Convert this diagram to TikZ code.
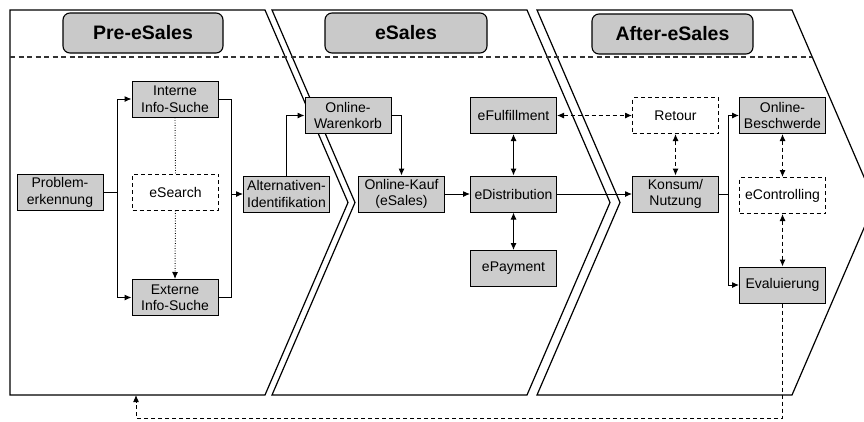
\documentclass[tikz,border=0pt]{standalone}
\usepackage{fontspec}
\setmainfont{Liberation Sans}
\usetikzlibrary{arrows.meta}
\definecolor{boxgray}{HTML}{CDCDCD}
\definecolor{titlegray}{HTML}{C9C9C9}
\begin{document}
\begin{tikzpicture}[x=1pt,y=-1pt,
  panel/.style={draw=black, line width=1.2pt, fill=white, line join=miter},
  stagebox/.style={draw=black, line width=1.1pt, rounded corners=7pt, fill=titlegray,
    minimum width=160pt, minimum height=40pt, inner sep=0pt,
    font=\fontsize{19.5}{22}\selectfont\bfseries},
  procbox/.style={draw=black, line width=1pt, fill=boxgray,
    minimum width=86pt, minimum height=36pt, inner sep=1pt, align=center,
    font=\fontsize{14}{16.5}\selectfont},
  optbox/.style={procbox, fill=white, dash pattern=on 4pt off 3pt},
  link/.style={draw=black, line width=1pt},
  arr/.style={link, -{Latex[length=7pt,width=6pt]}},
  biarr/.style={link, {Latex[length=7pt,width=6pt]}-{Latex[length=7pt,width=6pt]}},
  dbiarr/.style={biarr, dash pattern=on 4pt off 3pt},
  dotline/.style={link, line width=0.9pt, dash pattern=on 0.9pt off 1.6pt},
  dotarr/.style={arr, dash pattern=on 0.9pt off 1.6pt},
  fbline/.style={arr, dash pattern=on 4pt off 3pt}
]
\path[use as bounding box] (0,0) rectangle (864,421);

% three process stages as chevrons
\begin{scope}
  \clip (0,0) rectangle (864,421);
  \draw[panel] (10,10) -- (265,10) -- (348,202.5) -- (265,395) -- (10,395) -- cycle;
  \draw[panel] (272,10) -- (527,10) -- (610,202.5) -- (527,395) -- (272,395) -- (355,202.5) -- cycle;
  \draw[panel] (537,10) -- (792,10) -- (875,202.5) -- (792,395) -- (537,395) -- (620,202.5) -- cycle;
\end{scope}

% header separator
\draw[line width=1.1pt, black!80, dash pattern=on 5pt off 3.5pt] (10,57) -- (812,57);

% stage titles
\node[stagebox] (t1) at (143,33) {Pre-eSales};
\node[stagebox, minimum width=162pt] (t2) at (406,33) {eSales};
\node[stagebox, minimum width=161pt] (t3) at (672.5,34) {After-eSales};

% Pre-eSales
\node[procbox] (prob) at (60,192.5) {Problem-\\erkennung};
\node[procbox] (interne) at (175,99) {Interne\\Info-Suche};
\node[optbox] (esearch) at (175.5,192) {eSearch};
\node[procbox] (externe) at (175,297.5) {Externe\\Info-Suche};
\node[procbox] (alt) at (286.5,194) {Alternativen-\\Identifikation};

% eSales
\node[procbox] (waren) at (348,115.5) {Online-\\Warenkorb};
\node[procbox] (kauf) at (401.5,194) {Online-Kauf\\(eSales)};
\node[procbox] (edist) at (513.5,194) {eDistribution};
\node[procbox] (eful) at (513.5,115.5) {eFulfillment};
\node[procbox] (epay) at (513.5,268.5) {ePayment};

% After-eSales
\node[optbox] (retour) at (675.5,115.5) {Retour};
\node[procbox] (konsum) at (675.5,194) {Konsum/\\Nutzung};
\node[procbox] (beschw) at (782.5,115.5) {Online-\\Beschwerde};
\node[optbox] (ectrl) at (782.5,195.5) {eControlling};
\node[procbox] (eval) at (782.5,285) {Evaluierung};

% branch points
\coordinate (pl) at (117,192.5);
\coordinate (pr) at (231,194);
\coordinate (kr) at (728,194);
\coordinate (fbc) at (136,418);
\coordinate (fb) at (136,395);

% connectors
\draw[link] (prob.east) -- (pl);
\draw[arr] (pl) |- (interne.west);
\draw[arr] (pl) |- (externe.west);
\draw[link] (interne.east) -| (pr);
\draw[link] (externe.east) -| (pr);
\draw[arr] (pr) -- (alt.west);
\draw[dotline] (interne.south) -- (esearch.north);
\draw[dotarr] (esearch.south) -- (externe.north);

\draw[arr] (alt.north) |- (waren.west);
\draw[arr] (waren.east) -| (kauf.north);
\draw[arr] (kauf.east) -- (edist.west);
\draw[biarr] (edist.north) -- (eful.south);
\draw[biarr] (edist.south) -- (epay.north);
\draw[arr] (edist.east) -- (konsum.west);

\draw[dbiarr] (eful.east) -- (retour.west);
\draw[dbiarr] (retour.south) -- (konsum.north);
\draw[link] (konsum.east) -- (kr);
\draw[arr] (kr) |- (beschw.west);
\draw[arr] (kr) |- (eval.west);
\draw[dbiarr] (beschw.south) -- (ectrl.north);
\draw[dbiarr] (ectrl.south) -- (eval.north);

% feedback loop
\draw[fbline] (eval.south) |- (fbc) -- (fb);
\end{tikzpicture}
\end{document}
